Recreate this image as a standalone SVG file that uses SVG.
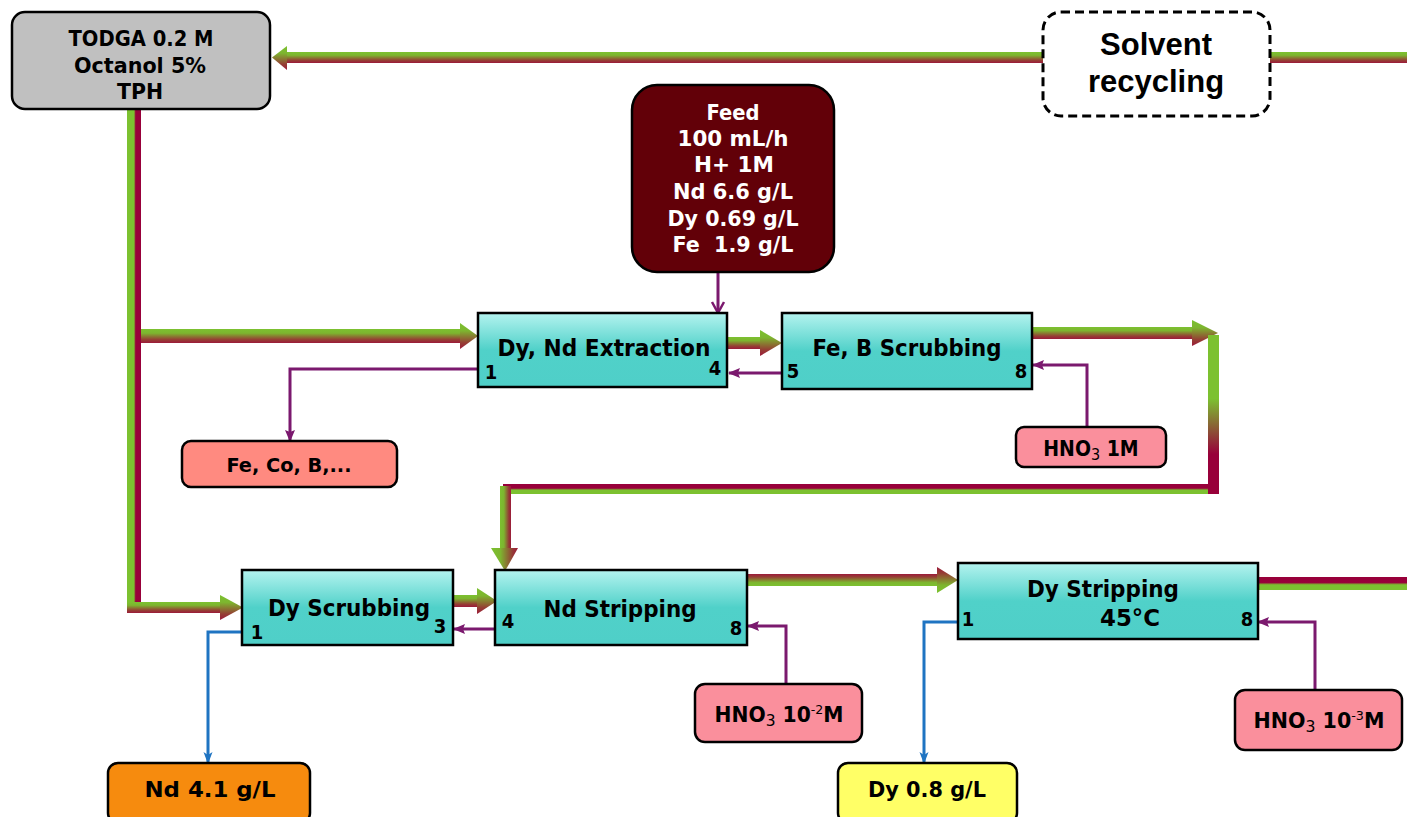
<svg xmlns="http://www.w3.org/2000/svg" width="1407" height="817" viewBox="0 0 1407 817">
<defs>
<linearGradient id="gH" x1="0" y1="0" x2="0" y2="1">
<stop offset="0" stop-color="#7cc130"/><stop offset="0.3" stop-color="#7db52f"/><stop offset="0.75" stop-color="#954034"/><stop offset="1" stop-color="#9c1a3a"/>
</linearGradient>
<linearGradient id="gHr" x1="0" y1="0" x2="0" y2="1">
<stop offset="0" stop-color="#9c1a3a"/><stop offset="0.25" stop-color="#954034"/><stop offset="0.7" stop-color="#7db52f"/><stop offset="1" stop-color="#7cc130"/>
</linearGradient>
<linearGradient id="gSplitH" x1="0" y1="0" x2="0" y2="1">
<stop offset="0" stop-color="#98003a"/><stop offset="0.42" stop-color="#98003a"/><stop offset="0.6" stop-color="#7cc130"/><stop offset="1" stop-color="#7cc130"/>
</linearGradient>
<linearGradient id="gSplitV" x1="0" y1="0" x2="1" y2="0">
<stop offset="0" stop-color="#7cc130"/><stop offset="0.5" stop-color="#7cc130"/><stop offset="0.62" stop-color="#98003a"/><stop offset="1" stop-color="#98003a"/>
</linearGradient>
<linearGradient id="gV" x1="0" y1="0" x2="1" y2="0">
<stop offset="0" stop-color="#7cc130"/><stop offset="0.35" stop-color="#7db52f"/><stop offset="0.8" stop-color="#953a36"/><stop offset="1" stop-color="#9c1a3a"/>
</linearGradient>
<linearGradient id="gVd" x1="0" y1="0" x2="0" y2="1">
<stop offset="0" stop-color="#7cc130"/><stop offset="0.4" stop-color="#7cc130"/><stop offset="0.75" stop-color="#98003a"/><stop offset="1" stop-color="#98003a"/>
</linearGradient>
<linearGradient id="gCyan" x1="0" y1="0" x2="0" y2="1">
<stop offset="0" stop-color="#b4f3ef"/><stop offset="0.5" stop-color="#50d1c9"/><stop offset="1" stop-color="#4fcfc8"/>
</linearGradient>
<marker id="mP" markerUnits="userSpaceOnUse" markerWidth="12" markerHeight="12" refX="11" refY="6" orient="auto">
<path d="M0,1 L12,6 L0,11 L2,6 z" fill="#7b196e"/>
</marker>
<marker id="mPo" markerUnits="userSpaceOnUse" markerWidth="16" markerHeight="16" refX="13" refY="8" orient="auto">
<path d="M2,2 L13,8 L2,14" fill="none" stroke="#7b196e" stroke-width="2.5"/>
</marker>
<marker id="mB" markerUnits="userSpaceOnUse" markerWidth="12" markerHeight="12" refX="11" refY="6" orient="auto">
<path d="M0,1.5 L12,6 L0,10.5 L3,6 z" fill="#1f74c2"/>
</marker>
</defs>
<style>
.box{stroke:#000;stroke-width:2.5}
.stage{fill:url(#gCyan);stroke:#000;stroke-width:2.5}
.t{font-family:"DejaVu Sans Condensed","DejaVu Sans",sans-serif;font-weight:bold;fill:#000;text-anchor:middle}
.w{fill:#fff}
.port{font-family:"DejaVu Sans Condensed","DejaVu Sans",sans-serif;font-weight:bold;font-size:20px;fill:#000;text-anchor:middle}
.pu{fill:none;stroke:#7b196e;stroke-width:3}
.bl{fill:none;stroke:#1f74c2;stroke-width:3}
.sub{font-weight:normal;font-size:16px}
.sup{font-weight:normal;font-size:13px}
</style>

<g id="connectors">
<rect x="286" y="52" width="757" height="11" fill="url(#gH)"/>
<polygon points="287,46 272,57.5 287,70" fill="url(#gH)"/>
<rect x="1269" y="52" width="138" height="11" fill="url(#gH)"/>
<rect x="127" y="109" width="14" height="495" fill="url(#gSplitV)"/>
<rect x="141" y="329" width="320" height="14" fill="url(#gH)"/>
<polygon points="460,323 478,336 460,349" fill="url(#gH)"/>
<rect x="127" y="602" width="95" height="11" fill="url(#gH)"/>
<polygon points="220,595 243,607.5 220,620" fill="url(#gH)"/>
<rect x="727" y="337" width="35" height="12" fill="url(#gH)"/>
<polygon points="760,330 782,343 760,356" fill="url(#gH)"/>
<rect x="1032" y="327" width="162" height="12" fill="url(#gH)"/>
<polygon points="1192,320 1218,333 1192,346" fill="url(#gH)"/>
<rect x="1208" y="335" width="11" height="159" fill="url(#gVd)"/>
<rect x="503" y="484" width="712" height="10" fill="url(#gSplitH)"/>
<rect x="1208" y="484" width="11" height="10" fill="#98003a"/>
<rect x="500" y="486" width="11" height="63" fill="url(#gV)"/>
<polygon points="491,548 518,548 505,571" fill="url(#gV)"/>
<rect x="453" y="595" width="26" height="12" fill="url(#gH)"/>
<polygon points="477,588 497,601 477,614" fill="url(#gH)"/>
<rect x="747" y="574" width="192" height="12" fill="url(#gHr)"/>
<polygon points="937,567 958,580 937,593" fill="url(#gHr)"/>
<rect x="1258" y="577" width="149" height="13" fill="url(#gSplitH)"/>
<line x1="718" y1="272" x2="718" y2="313" class="pu" marker-end="url(#mPo)"/>
<polyline points="478,369 290,369 290,441" class="pu" marker-end="url(#mP)"/>
<line x1="782" y1="373" x2="729" y2="373" class="pu" marker-end="url(#mP)"/>
<polyline points="1087,427 1087,365 1033,365" class="pu" marker-end="url(#mP)"/>
<line x1="495" y1="629" x2="454" y2="629" class="pu" marker-end="url(#mP)"/>
<polyline points="786,684 786,626 748,626" class="pu" marker-end="url(#mP)"/>
<polyline points="1315,690 1315,622 1258,622" class="pu" marker-end="url(#mP)"/>
<polyline points="242,632 208,632 208,763" class="bl" marker-end="url(#mB)"/>
<polyline points="958,622 924,622 924,763" class="bl" marker-end="url(#mB)"/>
</g>

<g id="todga">
<rect x="12" y="12" width="258" height="97" rx="13" class="box" fill="#c0c0c0"/>
<text class="t" x="141" y="46" font-size="22" textLength="145" lengthAdjust="spacingAndGlyphs">TODGA 0.2 M</text>
<text class="t" x="140" y="73" font-size="22" textLength="132" lengthAdjust="spacingAndGlyphs">Octanol 5%</text>
<text class="t" x="140" y="99" font-size="22" textLength="46" lengthAdjust="spacingAndGlyphs">TPH</text>
</g>

<g id="solvent-recycling">
<rect x="1043" y="12" width="227" height="104" rx="18" fill="#fff" stroke="#000" stroke-width="3" stroke-dasharray="9,5"/>
<text x="1156" y="55" font-family="'Liberation Sans',Arial,sans-serif" font-weight="bold" font-size="31" text-anchor="middle">Solvent</text>
<text x="1156" y="92" font-family="'Liberation Sans',Arial,sans-serif" font-weight="bold" font-size="31" text-anchor="middle">recycling</text>
</g>

<g id="feed">
<rect x="632" y="85" width="202" height="187" rx="25" class="box" fill="#620008"/>
<text class="t w" x="733" y="120" font-size="21" style="fill:#fff" textLength="53" lengthAdjust="spacingAndGlyphs">Feed</text>
<text class="t w" x="733" y="146" font-size="21" style="fill:#fff" textLength="111" lengthAdjust="spacingAndGlyphs">100 mL/h</text>
<text class="t w" x="734" y="172" font-size="21" style="fill:#fff" textLength="80" lengthAdjust="spacingAndGlyphs">H+ 1M</text>
<text class="t w" x="733" y="199" font-size="21" style="fill:#fff" textLength="120" lengthAdjust="spacingAndGlyphs">Nd 6.6 g/L</text>
<text class="t w" x="733" y="226" font-size="21" style="fill:#fff" textLength="131" lengthAdjust="spacingAndGlyphs">Dy 0.69 g/L</text>
<text class="t w" x="733" y="252" font-size="21" style="fill:#fff" textLength="121" lengthAdjust="spacingAndGlyphs" xml:space="preserve">Fe  1.9 g/L</text>
</g>

<g id="extraction">
<rect x="478" y="313" width="249" height="74" class="stage"/>
<text class="t" x="604" y="356" font-size="23" textLength="213" lengthAdjust="spacingAndGlyphs">Dy, Nd Extraction</text>
<text class="port" x="491" y="379">1</text>
<text class="port" x="715" y="375">4</text>
</g>

<g id="feb-scrubbing">
<rect x="782" y="313" width="250" height="76" class="stage"/>
<text class="t" x="907" y="356" font-size="23" textLength="189" lengthAdjust="spacingAndGlyphs">Fe, B Scrubbing</text>
<text class="port" x="793" y="378">5</text>
<text class="port" x="1021" y="378">8</text>
</g>

<g id="fe-co-b">
<rect x="182" y="441" width="215" height="46" rx="9" class="box" fill="#ff8a80"/>
<text class="t" x="289" y="472" font-size="20" textLength="125" lengthAdjust="spacingAndGlyphs">Fe, Co, B,...</text>
</g>

<g id="hno3-1m">
<rect x="1016" y="427" width="150" height="40" rx="8" class="box" fill="#fa8f9c"/>
<text class="t" x="1091" y="456" font-size="21">HNO<tspan class="sub" dy="4">3</tspan><tspan dy="-4"> 1M</tspan></text>
</g>

<g id="dy-scrubbing">
<rect x="242" y="570" width="211" height="75" class="stage"/>
<text class="t" x="349" y="616" font-size="23" textLength="162" lengthAdjust="spacingAndGlyphs">Dy Scrubbing</text>
<text class="port" x="257" y="639">1</text>
<text class="port" x="440" y="633">3</text>
</g>

<g id="nd-stripping">
<rect x="495" y="570" width="252" height="75" class="stage"/>
<text class="t" x="620" y="617" font-size="23" textLength="153" lengthAdjust="spacingAndGlyphs">Nd Stripping</text>
<text class="port" x="508" y="628">4</text>
<text class="port" x="736" y="635">8</text>
</g>

<g id="dy-stripping">
<rect x="958" y="563" width="300" height="76" class="stage"/>
<text class="t" x="1103" y="597" font-size="23" textLength="152" lengthAdjust="spacingAndGlyphs">Dy Stripping</text>
<text class="t" x="1130" y="626" font-size="23" textLength="60" lengthAdjust="spacingAndGlyphs">45°C</text>
<text class="port" x="968" y="626">1</text>
<text class="port" x="1247" y="626">8</text>
</g>

<g id="hno3-1e-2">
<rect x="695" y="684" width="167" height="58" rx="10" class="box" fill="#fa8f9c"/>
<text class="t" x="779" y="722" font-size="21" textLength="129" lengthAdjust="spacingAndGlyphs">HNO<tspan class="sub" dy="4">3</tspan><tspan dy="-4"> 10</tspan><tspan class="sup" dy="-8">-2</tspan><tspan dy="8">M</tspan></text>
</g>

<g id="hno3-1e-3">
<rect x="1235" y="690" width="167" height="60" rx="10" class="box" fill="#fa8f9c"/>
<text class="t" x="1319" y="728" font-size="21" textLength="131" lengthAdjust="spacingAndGlyphs">HNO<tspan class="sub" dy="4">3</tspan><tspan dy="-4"> 10</tspan><tspan class="sup" dy="-8">-3</tspan><tspan dy="8">M</tspan></text>
</g>

<g id="nd-product">
<rect x="108" y="763" width="202" height="60" rx="10" class="box" fill="#f68b0e"/>
<text class="t" x="210" y="797" font-size="22" textLength="131" lengthAdjust="spacingAndGlyphs">Nd 4.1 g/L</text>
</g>

<g id="dy-product">
<rect x="838" y="763" width="179" height="60" rx="10" class="box" fill="#ffff66"/>
<text class="t" x="927" y="797" font-size="22" textLength="118" lengthAdjust="spacingAndGlyphs">Dy 0.8 g/L</text>
</g>
</svg>
